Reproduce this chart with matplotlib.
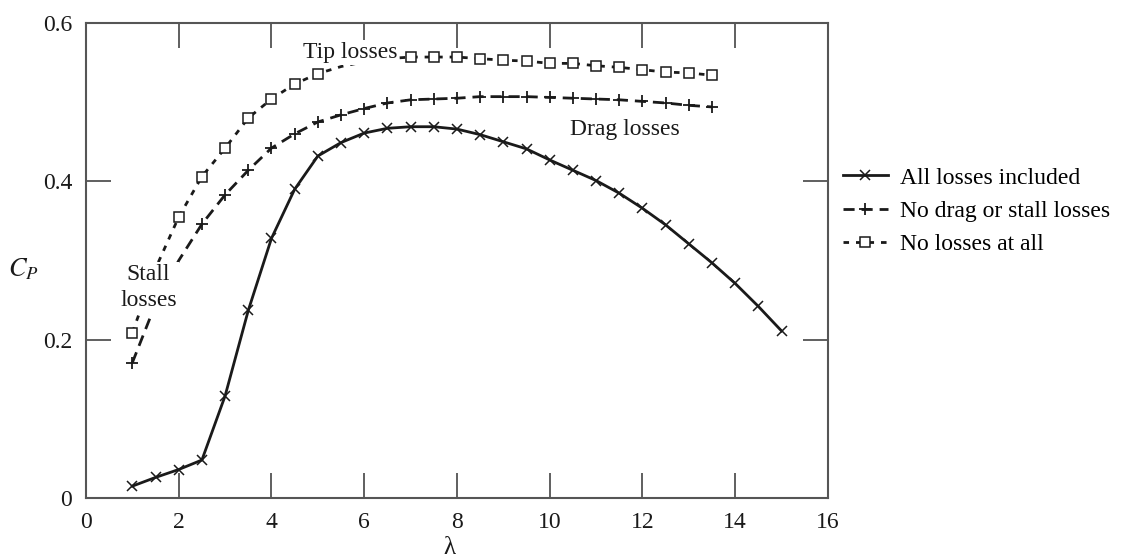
import matplotlib
matplotlib.use('Agg')
import matplotlib.pyplot as plt

# Tip speed ratio values
lam_all = [1, 1.5, 2, 2.5, 3, 3.5, 4, 4.5, 5, 5.5, 6, 6.5, 7, 7.5, 8, 8.5,
           9, 9.5, 10, 10.5, 11, 11.5, 12, 12.5, 13, 13.5, 14, 14.5, 15]
lam_ideal = [1, 1.5, 2, 2.5, 3, 3.5, 4, 4.5, 5, 5.5, 6, 6.5, 7, 7.5, 8, 8.5,
             9, 9.5, 10, 10.5, 11, 11.5, 12, 12.5, 13, 13.5]

# Power coefficient
cp_all = [0.015, 0.026, 0.036, 0.048, 0.129, 0.237, 0.328, 0.390, 0.432, 0.449,
          0.461, 0.467, 0.469, 0.469, 0.466, 0.459, 0.450, 0.441, 0.427, 0.414,
          0.401, 0.385, 0.366, 0.345, 0.321, 0.297, 0.271, 0.242, 0.211]
cp_nodrag = [0.171, 0.245, 0.300, 0.346, 0.383, 0.414, 0.442, 0.460, 0.475, 0.484,
             0.492, 0.499, 0.503, 0.504, 0.505, 0.507, 0.507, 0.507, 0.506, 0.505,
             0.504, 0.503, 0.501, 0.499, 0.496, 0.494]
cp_none = [0.209, 0.290, 0.355, 0.406, 0.442, 0.480, 0.504, 0.523, 0.536, 0.545,
           0.551, 0.555, 0.557, 0.557, 0.557, 0.555, 0.553, 0.552, 0.549, 0.549,
           0.546, 0.544, 0.541, 0.538, 0.537, 0.534]

labels = ['All losses included', 'No drag or stall losses', 'No losses at all']

plt.rcParams['font.family'] = ['Liberation Serif', 'DejaVu Serif']
plt.rcParams['mathtext.fontset'] = 'stix'

fig = plt.figure(figsize=(11.24, 5.6), dpi=100)
ax = fig.add_axes([0.0765, 0.1107, 0.6601, 0.8482])

ink = '#1a1a1a'
fs = 17
# markers hidden where the source has none
mk_nodrag = [0] + list(range(3, len(lam_ideal)))
mk_none = [0] + list(range(2, 9)) + list(range(12, len(lam_ideal)))

ax.plot(lam_all, cp_all, color=ink, lw=2.0, marker='x', ms=7, mew=1.1,
        label=labels[0])
ax.plot(lam_ideal, cp_nodrag, color=ink, lw=2.0, ls=(0, (4, 2.5)), marker='+',
        ms=9, mew=1.3, markevery=mk_nodrag, label=labels[1])
ax.plot(lam_ideal, cp_none, color=ink, lw=2.0, ls=(0, (2, 2.5)), marker='s',
        ms=7, mew=1.1, mfc='white', markevery=mk_none, label=labels[2])

box = dict(facecolor='white', edgecolor='none', pad=1.5)
ax.text(5.69, 0.563, 'Tip losses', fontsize=fs, ha='center', va='center',
        color=ink, bbox=box, zorder=5)
ax.text(11.63, 0.465, 'Drag losses', fontsize=fs, ha='center', va='center',
        color=ink, zorder=5)
ax.text(1.35, 0.266, 'Stall\nlosses', fontsize=fs, ha='center', va='center',
        color=ink, bbox=box, zorder=5, linespacing=1.3)

ax.set_xlim(0, 16)
ax.set_ylim(0, 0.6)
ax.set_xticks([0, 2, 4, 6, 8, 10, 12, 14, 16])
ax.set_yticks([0, 0.2, 0.4, 0.6])
ax.set_yticklabels(['0', '0.2', '0.4', '0.6'])
ax.tick_params(direction='in', length=18, width=1.2, colors='#444',
               labelcolor=ink, labelsize=fs, top=True, right=True)
ax.tick_params(axis='x', pad=10)
ax.tick_params(axis='y', pad=10)
for s in ax.spines.values():
    s.set_color('#555')
    s.set_linewidth(1.5)

ax.set_xlabel('λ', fontsize=18, color=ink)
ax.xaxis.set_label_coords(0.49, -0.083)
ax.set_ylabel('$C_P$', fontsize=19, color=ink, rotation=0)
ax.yaxis.set_label_coords(-0.085, 0.455)

fig.legend(loc='center left', bbox_to_anchor=(0.75, 0.623), frameon=False,
           fontsize=fs, handlelength=1.9, handletextpad=0.5, labelspacing=0.5,
           borderpad=0, borderaxespad=0)

fig.savefig('out.png', dpi=100)
